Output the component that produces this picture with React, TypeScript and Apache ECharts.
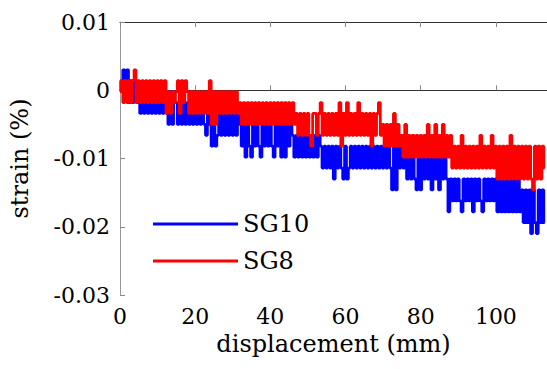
import React, { useEffect, useRef } from "react";
import * as echarts from "echarts";

// Quantized strain readings (%): the gauge output sits on discrete levels.
const STRAIN_LEVELS = [
  0.003, 0.0014, -0.0002, -0.0018, -0.0034, -0.005, -0.0066, -0.0082,
  -0.0098, -0.0114, -0.013, -0.0146, -0.0162, -0.0178, -0.0194, -0.021,
];

// Sampling of the displacement (mm)
const DISPLACEMENT_STEP = 0.5;

// SG10 readings (index into STRAIN_LEVELS), one per DISPLACEMENT_STEP
const sg10Levels = [
  2, 1, 0, 1, 0, 3, 1, 3, 1, 3,
  2, 4, 2, 4, 2, 4, 2, 4, 2, 4, 2, 4, 2, 4, 2, 4,
  5, 2, 5, 3,
  3, 5, 3, 5, 3, 5, 3, 5, 3, 5, 3, 5, 3, 5, 3, 5,
  6, 3, 5, 7, 3, 7, 6, 3, 6,
  4, 6, 4, 6, 4, 6, 4, 6, 4,
  5, 7, 5, 8, 5, 7, 8, 5, 7, 5, 7, 8, 5, 7, 5, 7, 5, 7, 8, 5, 7, 5, 8, 5, 8, 5, 7, 5,
  6, 8, 6, 8, 6, 8, 6, 8, 6, 8, 6, 8, 6, 8, 6,
  7, 9, 7, 9, 7, 9, 7, 10, 7, 9,
  7, 9, 10, 7, 10, 9, 7, 9, 7, 9,
  7, 9, 7, 9, 7, 9, 7, 9, 7, 9,
  7, 9, 7, 9, 7, 9, 7, 9, 11, 7,
  11, 7, 9, 7, 9,
  8, 10, 8, 10, 8, 10, 11, 8, 11, 8, 10, 8, 10, 8, 11, 8, 10, 8, 11, 8, 10, 8,
  10, 13, 10, 12, 10, 12, 10, 12, 13, 10, 12, 10, 12, 10, 13, 10, 12, 10, 12, 13, 10, 12, 10, 12, 10, 12,
  10, 13, 10, 13, 10, 13, 10, 13, 10, 13, 10, 13, 10, 13,
  11, 14, 11, 14, 11, 15, 11, 14, 15, 11, 14, 11, 14,
];

// SG8 readings
const sg8Levels = [
  2, 1, 3, 1, 3, 1, 3, 1, 0, 3, 1, 3, 1, 3, 1, 3, 1, 3, 1, 3, 1, 3, 1, 3, 1,
  4, 2, 4, 2, 3, 2,
  1, 4, 1, 3, 1,
  2, 4, 2, 4, 2, 4, 2, 4, 2, 4, 2, 4,
  1,
  5, 2, 5, 2, 4, 2, 4, 2, 4, 2, 4,
  2, 4, 2, 4,
  3, 5, 3, 5, 3, 5, 3, 5, 3, 5, 3, 5, 3, 5, 3, 5, 3, 5, 3, 5, 3, 5, 3, 5, 3, 5, 3, 5, 3, 5,
  4, 6, 4, 6, 4, 6, 4, 6, 7, 4,
  4, 6, 4, 3, 6, 4, 6, 4, 6, 4,
  6, 4, 6, 3, 7, 4, 6, 3, 6, 4,
  6, 4, 6, 3, 6, 4, 6, 4,
  6, 4, 7, 4, 6, 4, 3, 6, 5, 7, 5, 7, 5, 7, 4, 7, 5, 7,
  6, 8, 5, 8, 6, 8, 6, 8, 6, 8, 6, 8, 6, 8, 5, 8, 6, 8, 5, 8, 6, 8, 5, 8, 6, 8, 6,
  9, 7, 9, 7, 9, 6, 9, 7, 9, 7, 9, 7, 9, 7, 9, 6, 9, 7, 9, 7, 9, 6, 9,
  7, 10, 7, 10, 7, 10, 7, 10, 6, 10, 7, 10, 7, 10, 7, 10, 7, 10, 7, 10, 11, 7, 10, 7, 10, 7, 9,
];

const seriesNames = ["SG10", "SG8"];
const seriesColors = ["#0000ff", "#ff0000"];

const X_MIN = 0;
const X_MAX = 113.6;
const X_INTERVAL = 20;
const Y_MIN = -0.03;
const Y_MAX = 0.01;
const Y_INTERVAL = 0.01;

const FONT = "DejaVu Serif";

function toPoints(levels: number[]) {
  return levels.map((lv, i) => [i * DISPLACEMENT_STEP, STRAIN_LEVELS[lv]]);
}

export default function App() {
  const ref = useRef<HTMLDivElement>(null);
  useEffect(() => {
    if (!ref.current) return;
    const chart = echarts.init(ref.current, undefined, { renderer: "svg" });
    const tickStyle = { show: true, inside: true, length: 5, lineStyle: { color: "#888", width: 1 } };
    chart.setOption({
      animation: false,
      backgroundColor: "#ffffff",
      grid: { left: 120, top: 22, right: -2, bottom: 74, containLabel: false },
      legend: [
        {
          data: [seriesNames[0]],
          left: 148,
          top: 207,
          icon: "rect",
          itemWidth: 85,
          itemHeight: 3,
          textStyle: { fontFamily: FONT, fontSize: 24, color: "#000" },
        },
        {
          data: [seriesNames[1]],
          left: 148,
          top: 244,
          icon: "rect",
          itemWidth: 85,
          itemHeight: 3,
          textStyle: { fontFamily: FONT, fontSize: 24, color: "#000" },
        },
      ],
      xAxis: [
        {
          type: "value",
          min: X_MIN,
          max: X_MAX,
          interval: X_INTERVAL,
          name: "displacement (mm)",
          nameLocation: "middle",
          nameGap: 34,
          nameTextStyle: { fontFamily: FONT, fontSize: 24, color: "#000" },
          axisLine: { show: true, lineStyle: { color: "#333", width: 1 } },
          axisTick: tickStyle,
          axisLabel: { fontFamily: FONT, fontSize: 22, color: "#000", margin: 10, showMaxLabel: false },
          splitLine: { show: false },
        },
        {
          type: "value",
          position: "top",
          min: X_MIN,
          max: X_MAX,
          interval: X_INTERVAL,
          axisLine: { show: true, lineStyle: { color: "#333", width: 1 } },
          axisTick: tickStyle,
          axisLabel: { show: false },
          splitLine: { show: false },
        },
      ],
      yAxis: {
        type: "value",
        min: Y_MIN,
        max: Y_MAX,
        interval: Y_INTERVAL,
        name: "strain (%)",
        nameLocation: "middle",
        nameGap: 88,
        nameTextStyle: { fontFamily: FONT, fontSize: 24, color: "#000" },
        axisLine: { show: true, lineStyle: { color: "#999", width: 1 } },
        axisTick: tickStyle,
        axisLabel: {
          fontFamily: FONT,
          fontSize: 22,
          color: "#000",
          margin: 10,
          formatter: (v: number) => (Math.abs(v) < 1e-9 ? "0" : String(Math.round(v * 100) / 100)),
        },
        splitLine: { show: false },
      },
      series: [
        {
          name: seriesNames[0],
          type: "line",
          step: "middle",
          data: toPoints(sg10Levels),
          showSymbol: false,
          color: seriesColors[0],
          lineStyle: { width: 2.8, color: seriesColors[0] },
          xAxisIndex: 0,
        },
        {
          name: seriesNames[1],
          type: "line",
          step: "middle",
          data: toPoints(sg8Levels),
          showSymbol: false,
          color: seriesColors[1],
          lineStyle: { width: 2.8, color: seriesColors[1] },
          xAxisIndex: 0,
        },
      ],
    });
    return () => chart.dispose();
  }, []);
  return (
    <div
      ref={ref}
      style={{ position: "absolute", left: 0, top: 0, width: 547, height: 369, background: "#fff" }}
    />
  );
}
